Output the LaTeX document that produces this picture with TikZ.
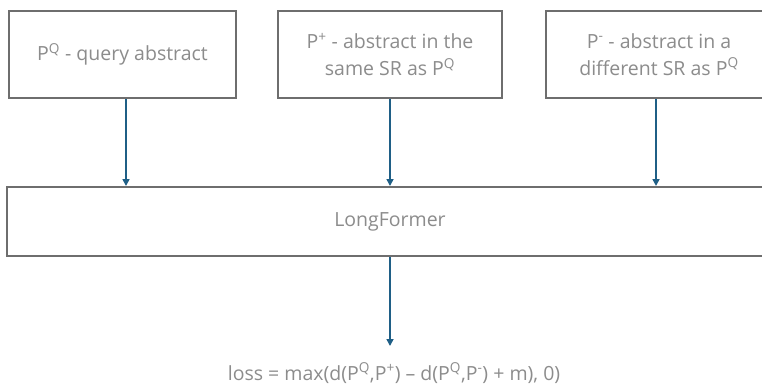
\documentclass[tikz,border=0pt]{standalone}
\usepackage{fontspec}
\setmainfont{Open Sans}
\usetikzlibrary{arrows.meta}
\definecolor{boxline}{HTML}{6E6E6E}
\definecolor{txtgray}{HTML}{8C8C8C}
\definecolor{flow}{HTML}{1F5F86}
\tikzset{
  block/.style={draw=boxline, line width=2pt, fill=white, align=center,
    text=txtgray, inner sep=0pt, font=\fontsize{19.5}{27}\selectfont},
  flowarrow/.style={draw=flow, line width=1.6pt,
    -{Triangle[length=7pt,width=7pt]}},
  label/.style={text=txtgray, inner sep=0pt, font=\fontsize{19.5}{22}\selectfont}
}
\begin{document}
\begin{tikzpicture}[x=1pt,y=-1pt]
\useasboundingbox (0,0) rectangle (762,384);
\begin{scope}
\clip (0,0) rectangle (762,384);
% input abstracts
\node[block, minimum width=227, minimum height=87] (q) at (122.5,54.5)
  {P\textsuperscript{Q} - query abstract};
\node[block, minimum width=224, minimum height=87] (pos) at (390,54.5)
  {P\textsuperscript{+} - abstract in the\\same SR as P\textsuperscript{Q}};
\node[block, minimum width=226, minimum height=87] (neg) at (659,54.5)
  {P\textsuperscript{-} - abstract in a\\different SR as P\textsuperscript{Q}};
% encoder
\node[block, minimum width=766, minimum height=69] (lf) at (390,221.5)
  {LongFormer};
\end{scope}
% objective
\node[label, anchor=base] (loss) at (394,380)
  {loss = max(d(P\textsuperscript{Q},P\textsuperscript{+}) – d(P\textsuperscript{Q},P\textsuperscript{-}) + m), 0)};
% connectors
\draw[flowarrow] ([xshift=3.5pt]q.south) -- ([xshift=3.5pt]q.south |- lf.north);
\draw[flowarrow] (pos.south) -- (pos.south |- lf.north);
\draw[flowarrow] ([xshift=-3pt]neg.south) -- ([xshift=-3pt]neg.south |- lf.north);
\coordinate (lossin) at (390,346);
\draw[flowarrow] (lf.south) -- (lossin);
\end{tikzpicture}
\end{document}
